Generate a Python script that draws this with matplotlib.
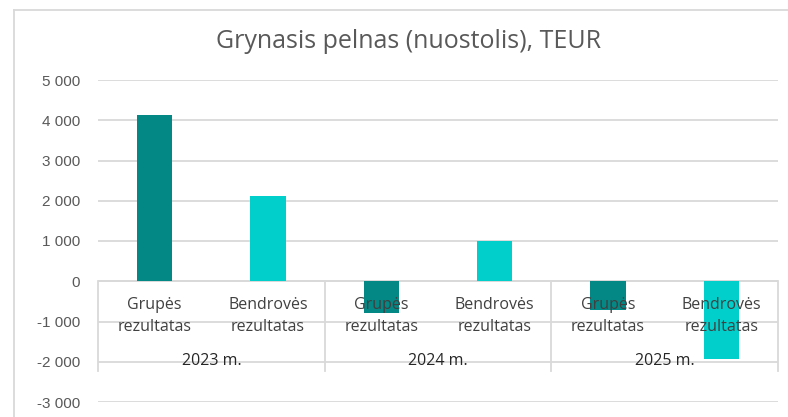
import matplotlib
matplotlib.use("Agg")
import matplotlib.pyplot as plt
from matplotlib.lines import Line2D
from matplotlib.ticker import FuncFormatter, MultipleLocator

# Data (TEUR)
years = ["2023 m.", "2024 m.", "2025 m."]
categories = ["Grupės\nrezultatas", "Bendrovės\nrezultatas"]
group_values = [4130, -780, -720]
company_values = [2130, 1010, -1940]

COLORS = ["#038885", "#00CFCB"]
GRID = "#D9D9D9"

fig = plt.figure(figsize=(7.88, 4.17), dpi=100)
ax = fig.add_axes([98 / 788, 1 - 402 / 417, 680 / 788, 322 / 417])

values = []
colors = []
labels = []
for g, c in zip(group_values, company_values):
    values += [g, c]
    colors += COLORS
    labels += categories
xs = list(range(len(values)))

ax.bar(xs, values, width=0.31, color=colors, zorder=2)

ax.set_xlim(-0.5, len(values) - 0.5)
ax.set_ylim(-3000, 5000)
ax.yaxis.set_major_locator(MultipleLocator(1000))
ax.yaxis.set_major_formatter(
    FuncFormatter(lambda v, _: f"{int(round(v)):,}".replace(",", " "))
)
ax.grid(True, axis="y", color=GRID, linewidth=1.3, zorder=0)
ax.set_axisbelow(True)
for s in ax.spines.values():
    s.set_visible(False)
ax.tick_params(axis="y", length=0, pad=13, labelsize=11, labelcolor="#595959")
for lbl in ax.get_yticklabels():
    lbl.set_family("Liberation Sans")
ax.set_xticks([])

# category axis at zero with multi-level labels
ax.axhline(0, color=GRID, linewidth=1.3, zorder=1)
for xb in [-0.5, 1.5, 3.5, 5.5]:
    ax.plot([xb, xb], [0, -2220], color=GRID, linewidth=1.3, zorder=1,
            clip_on=False)
for x, lab in zip(xs, labels):
    ax.text(x, -858, lab, ha="center", va="center", fontsize=11.5,
            family="Open Sans", color="#404040", linespacing=1.5, zorder=3)
for i, y in enumerate(years):
    ax.text(2 * i + 0.5, -1982, y, ha="center", va="center", fontsize=11.5,
            family="Open Sans", color="#262626", zorder=3)

fig.text(408 / 788, 1 - 42 / 417, "Grynasis pelnas (nuostolis), TEUR",
         ha="center", va="center", fontsize=18, family="Open Sans",
         color="#595959")

# chart border
fig.add_artist(Line2D([14 / 788, 14 / 788], [0, 1 - 10 / 417],
                      color=GRID, linewidth=1.3, transform=fig.transFigure))
fig.add_artist(Line2D([14 / 788, 1], [1 - 10 / 417, 1 - 10 / 417],
                      color=GRID, linewidth=1.3, transform=fig.transFigure))

fig.savefig("out.png", dpi=100)
